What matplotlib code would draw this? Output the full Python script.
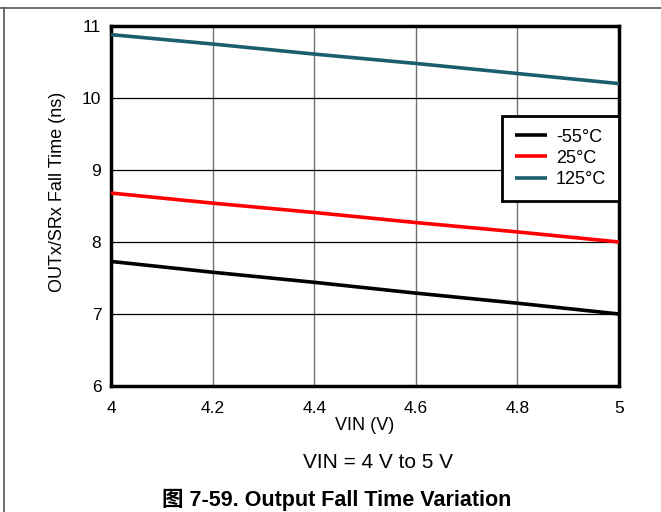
import matplotlib
matplotlib.use("Agg")
import matplotlib.pyplot as plt
from matplotlib.lines import Line2D

plt.rcParams['font.family'] = ['Liberation Sans', 'Noto Sans CJK SC', 'DejaVu Sans']

vin = [4.0, 4.2, 4.4, 4.6, 4.8, 5.0]
t_m55 = [7.73, 7.58, 7.44, 7.29, 7.15, 7.00]
t_25 = [8.68, 8.54, 8.41, 8.27, 8.14, 8.00]
t_125 = [10.88, 10.75, 10.61, 10.48, 10.34, 10.20]
labels = ['-55°C', '25°C', '125°C']
colors = ['#000000', '#ff0000', '#1b5e6e']
xticks = [4, 4.2, 4.4, 4.6, 4.8, 5]
xticklabels = ['4', '4.2', '4.4', '4.6', '4.8', '5']
yticks = [6, 7, 8, 9, 10, 11]

fig = plt.figure(figsize=(6.61, 5.12), dpi=100)
ax = fig.add_axes([111/661, 1-386/512, 508/661, 360/512])

for y, c, l in zip([t_m55, t_25, t_125], colors, labels):
    ax.plot(vin, y, color=c, lw=2.6, label=l, zorder=3, solid_capstyle='butt')

ax.set_xlim(4, 5)
ax.set_ylim(6, 11)
ax.set_xticks(xticks)
ax.set_xticklabels(xticklabels)
ax.set_yticks(yticks)
ax.tick_params(axis='both', length=0, labelsize=12.5)
ax.tick_params(axis='x', pad=10.5)
ax.tick_params(axis='y', pad=7)
for x in xticks[1:-1]:
    ax.axvline(x, color='#707070', lw=1.0, zorder=1)
for y in yticks[1:-1]:
    ax.axhline(y, color='#000000', lw=0.9, zorder=1)
for s in ax.spines.values():
    s.set_linewidth(2.5)
    s.set_color('black')

leg = ax.legend(loc='upper right', bbox_to_anchor=(1.0, 0.75), borderaxespad=0,
                fancybox=False, edgecolor='black', fontsize=13, handlelength=1.8,
                handletextpad=0.5, borderpad=0.7, labelspacing=0.23, framealpha=1)
leg.get_frame().set_linewidth(2)
leg.set_zorder(5)

fig.text(58/661, 1-192/512, 'OUTx/SRx Fall Time (ns)', rotation=90, ha='center', va='center', fontsize=13)
fig.text(365/661, 1-425/512, 'VIN (V)', ha='center', va='center', fontsize=13)
fig.text(378/661, 1-463/512, 'VIN = 4 V to 5 V', ha='center', va='center', fontsize=15)
fig.text(337/661, 1-500/512, '图 7-59. Output Fall Time Variation', ha='center', va='center',
         fontsize=15.5, fontweight='bold')

fig.add_artist(Line2D([0, 1], [1-8/512, 1-8/512], color='#555555', lw=1.2))
fig.add_artist(Line2D([4/661, 4/661], [0, 1-8/512], color='#555555', lw=1.2))

fig.savefig('out.png', dpi=100)
